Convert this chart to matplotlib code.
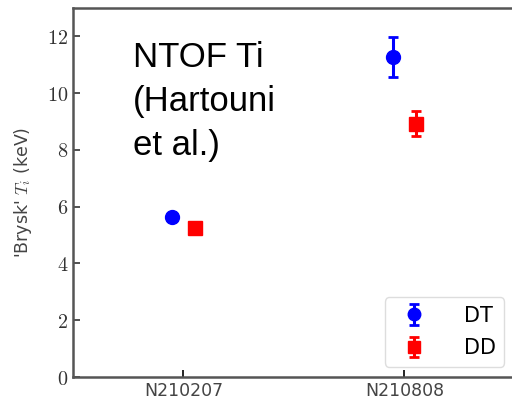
import matplotlib.pyplot as plt
from matplotlib.ticker import FuncFormatter

plt.rcParams['mathtext.fontset'] = 'cm'

shots = ['N210207', 'N210808']
dt_ti = [5.63, 11.27]
dt_err = [0.12, 0.7]
dd_ti = [5.24, 8.93]
dd_err = [0.1, 0.43]

offset = 0.052


def main():
    fig = plt.figure(figsize=(5.12, 4.03), dpi=100)
    ax = fig.add_axes([0.1426, 0.0645, 0.863, 0.9155])

    x = list(range(len(shots)))
    ax.errorbar([i - offset for i in x], dt_ti, yerr=dt_err, fmt='o', color='b',
                markersize=10, capsize=3.5, elinewidth=2.2, capthick=2, label='DT')
    ax.errorbar([i + offset for i in x], dd_ti, yerr=dd_err, fmt='s', color='r',
                markersize=10, capsize=3.5, elinewidth=2.2, capthick=2, label='DD')

    ax.set_xlim(-0.5, 1.5)
    ax.set_ylim(0, 13)
    ax.set_xticks(x)
    ax.set_xticklabels(shots, fontsize=12.5, color='#444444')
    ax.set_yticks(range(0, 13, 2))
    ax.yaxis.set_major_formatter(FuncFormatter(lambda v, p: r'$%d$' % v))
    ax.tick_params(axis='y', labelsize=14.5, colors='#333333', labelcolor='#333333')
    ax.tick_params(direction='in', length=5, width=1.2)
    for s in ax.spines.values():
        s.set_color('#555555')
        s.set_linewidth(1.8)

    ax.set_ylabel("'Brysk' $T_i$ (keV)", fontsize=12.5, color='#444444', labelpad=9)

    fig.text(0.26, 0.898, 'NTOF Ti\n(Hartouni\net al.)', fontsize=25,
             family='Liberation Sans', va='top', ha='left', linespacing=1.42)

    ax.legend(loc='lower right', fontsize=15, framealpha=1, edgecolor='#dddddd',
              handletextpad=1.4, borderaxespad=0.5, labelspacing=0.6,
              markerscale=0.9)

    plt.savefig('out.png', dpi=100)


if __name__ == '__main__':
    main()
